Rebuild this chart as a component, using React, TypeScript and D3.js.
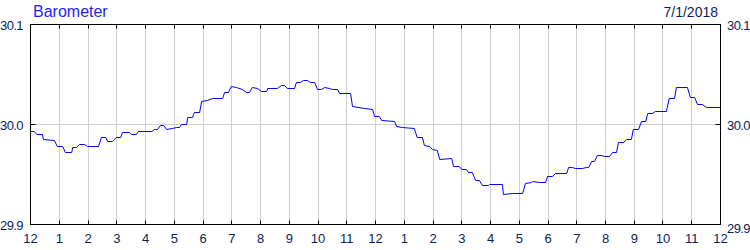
import React from "react";
import * as d3 from "d3";

const title = "Barometer";
const dateLabel = "7/1/2018";

// minutes since 12 AM
const times = [
  0, 8, 13, 25, 27, 50, 56, 67, 73, 86,
  88, 96, 102, 113, 119, 142, 148, 157, 161, 171,
  179, 188, 192, 207, 211, 221, 225, 253, 259, 265,
  271, 278, 284, 296, 305, 311, 315, 326, 328, 338,
  342, 353, 357, 369, 380, 401, 405, 413, 419, 430,
  442, 451, 457, 463, 474, 482, 493, 495, 515, 524,
  530, 536, 551, 555, 563, 570, 578, 584, 593, 599,
  607, 614, 624, 630, 641, 645, 668, 672, 697, 714,
  718, 728, 733, 760, 764, 776, 801, 807, 818, 822,
  833, 839, 849, 854, 879, 883, 895, 900, 910, 914,
  922, 929, 937, 943, 956, 958, 985, 987, 1006, 1027,
  1033, 1046, 1048, 1062, 1075, 1079, 1089, 1096, 1119, 1123,
  1131, 1137, 1152, 1160, 1165, 1171, 1177, 1183, 1192, 1198,
  1208, 1215, 1223, 1227, 1238, 1244, 1254, 1258, 1269, 1275,
  1284, 1288, 1298, 1304, 1327, 1333, 1344, 1348, 1371, 1377,
  1386, 1392, 1402, 1411, 1440,
];

// inHg
const pressure = [
  29.993, 29.993, 29.99, 29.99, 29.985, 29.984, 29.978, 29.978, 29.972, 29.972,
  29.977, 29.977, 29.98, 29.98, 29.978, 29.978, 29.987, 29.987, 29.983, 29.983,
  29.987, 29.987, 29.992, 29.992, 29.99, 29.99, 29.993, 29.993, 29.995, 29.995,
  29.999, 29.999, 29.995, 29.996, 29.997, 29.997, 30.0, 30.0, 30.007, 30.007,
  30.012, 30.012, 30.023, 30.024, 30.026, 30.026, 30.032, 30.032, 30.038, 30.037,
  30.035, 30.032, 30.032, 30.037, 30.036, 30.033, 30.033, 30.036, 30.036, 30.039,
  30.039, 30.036, 30.036, 30.042, 30.042, 30.044, 30.044, 30.042, 30.042, 30.035,
  30.035, 30.037, 30.036, 30.035, 30.035, 30.031, 30.031, 30.018, 30.016, 30.015,
  30.008, 30.008, 30.004, 30.003, 29.998, 29.997, 29.996, 29.987, 29.987, 29.979,
  29.978, 29.975, 29.974, 29.965, 29.966, 29.958, 29.958, 29.955, 29.955, 29.952,
  29.952, 29.944, 29.944, 29.939, 29.939, 29.94, 29.94, 29.93, 29.931, 29.931,
  29.941, 29.942, 29.943, 29.942, 29.942, 29.948, 29.948, 29.951, 29.951, 29.957,
  29.957, 29.956, 29.956, 29.957, 29.957, 29.963, 29.963, 29.969, 29.969, 29.968,
  29.968, 29.972, 29.972, 29.982, 29.982, 29.985, 29.985, 29.995, 29.995, 30.003,
  30.003, 30.011, 30.011, 30.013, 30.013, 30.026, 30.026, 30.037, 30.037, 30.027,
  30.027, 30.02, 30.02, 30.017, 30.017,
];

const hourTicks = d3.range(0, 25); // hour index
const hourLabels = [
  "12", "1", "2", "3", "4", "5", "6", "7", "8", "9", "10", "11",
  "12", "1", "2", "3", "4", "5", "6", "7", "8", "9", "10", "11", "12",
];
const yTicks = [29.9, 30.0, 30.1];
const yTickLabels = ["29.9", "30.0", "30.1"];

const W = 750;
const H = 250;
const left = 30.5;
const right = 720.5;
const top = 24.5;
const bottom = 224.5;

const FONT = "'Liberation Sans', Arial, sans-serif";
const LABEL = "#0d1d5c";

export default function App() {
  const x = d3.scaleLinear().domain([0, 1440]).range([left, right]);
  const y = d3.scaleLinear().domain([29.9, 30.1]).range([bottom, top]);
  const pts = times.map((t, i) => [t, pressure[i]] as [number, number]);
  const line = d3
    .line<[number, number]>()
    .x((d) => x(d[0]))
    .y((d) => y(d[1]));
  const px = (v: number) => Math.round(v - 0.5) + 0.5;

  return (
    <svg
      width={W}
      height={H}
      style={{ position: "absolute", left: 0, top: 0, background: "#fff" }}
      fontFamily={FONT}
    >
      <rect x={0} y={0} width={W} height={H} fill="#fff" />
      {hourTicks.slice(1, -1).map((h) => (
        <line
          key={"g" + h}
          x1={px(x(h * 60))}
          x2={px(x(h * 60))}
          y1={top}
          y2={bottom}
          stroke="#d0d0d0"
          strokeWidth={1}
        />
      ))}
      {yTicks.slice(1, -1).map((v) => (
        <line
          key={"hg" + v}
          x1={left}
          x2={right}
          y1={px(y(v))}
          y2={px(y(v))}
          stroke="#d0d0d0"
          strokeWidth={1}
        />
      ))}
      <path d={line(pts) || ""} fill="none" stroke="#0000ff" strokeWidth={1} />
      <rect
        x={left}
        y={top}
        width={right - left}
        height={bottom - top}
        fill="none"
        stroke="#000"
        strokeWidth={1}
      />
      {hourTicks.slice(1, -1).map((h) => (
        <g key={"t" + h}>
          <line x1={px(x(h * 60))} x2={px(x(h * 60))} y1={top} y2={top + 4} stroke="#000" />
          <line x1={px(x(h * 60))} x2={px(x(h * 60))} y1={bottom - 4} y2={bottom} stroke="#000" />
        </g>
      ))}
      {yTicks.slice(1, -1).map((v) => (
        <g key={"yt" + v}>
          <line x1={left} x2={left + 5} y1={px(y(v))} y2={px(y(v))} stroke="#000" />
          <line x1={right - 5} x2={right} y1={px(y(v))} y2={px(y(v))} stroke="#000" />
        </g>
      ))}
      {hourTicks.map((h) => (
        <text
          key={"xl" + h}
          x={x(h * 60)}
          y={243}
          textAnchor="middle"
          fontSize={13}
          fill={LABEL}
        >
          {hourLabels[h]}
        </text>
      ))}
      {yTicks.map((v, i) => (
        <g key={"yl" + v}>
          <text
            x={23}
            y={y(v) + 5}
            textAnchor="end"
            fontSize={13}
            letterSpacing={-0.6}
            fill={LABEL}
          >
            {yTickLabels[i]}
          </text>
          <text
            x={727}
            y={y(v) + 5 + (i === 0 ? 3 : 0)}
            textAnchor="start"
            fontSize={13}
            letterSpacing={-0.6}
            fill={LABEL}
          >
            {yTickLabels[i]}
          </text>
        </g>
      ))}
      <text x={33} y={17} fontSize={16} fill="#2323ff">
        {title}
      </text>
      <text x={718} y={17} fontSize={14} textAnchor="end" fill={LABEL}>
        {dateLabel}
      </text>
    </svg>
  );
}
